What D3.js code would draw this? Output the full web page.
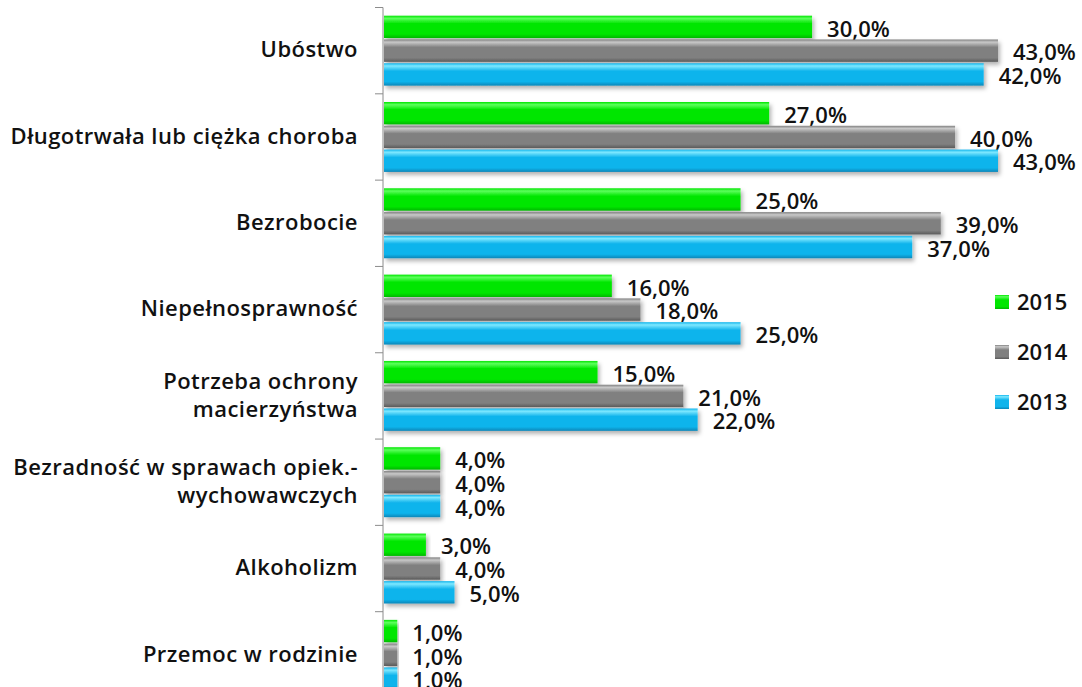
<!DOCTYPE html>
<html><head><meta charset="utf-8">
<script src="https://cdn.jsdelivr.net/npm/d3@7"></script>
<style>body{margin:0;background:#fff}svg{display:block}</style>
</head><body><svg id="c" width="1082" height="687"></svg>
<script>
const categories = [
  ["Ubóstwo"],
  ["Długotrwała lub ciężka choroba"],
  ["Bezrobocie"],
  ["Niepełnosprawność"],
  ["Potrzeba ochrony", "macierzyństwa "],
  ["Bezradność w sprawach opiek.-", "wychowawczych"],
  ["Alkoholizm"],
  ["Przemoc w rodzinie"]
];
const seriesNames = ["2015", "2014", "2013"];
const values2015 = [30, 27, 25, 16, 15, 4, 3, 1];
const values2014 = [43, 40, 39, 18, 21, 4, 4, 1];
const values2013 = [42, 43, 37, 25, 22, 4, 5, 1];
const seriesValues = [values2015, values2014, values2013];
const colors = {
  "2015": ["#5cff5c", "#00e600", "#00b800"],
  "2014": ["#c8c8c8", "#808080", "#5a5a5a"],
  "2013": ["#7ee8ff", "#10b4ec", "#0a86b8"]
};

const svg = d3.select("#c");
const font = "'Open Sans', Lato, sans-serif";
const x0 = 383;
const x = d3.scaleLinear().domain([0, 43]).range([x0, 998]);
const y = d3.scaleBand().domain(d3.range(categories.length)).range([7.5, 698]).paddingInner(0.19).paddingOuter(0.095);
const ys = d3.scaleBand().domain(seriesNames).range([0, y.bandwidth()]).paddingInner(0.06);

const defs = svg.append("defs");
seriesNames.forEach(s => {
  const g = defs.append("linearGradient").attr("id", "g" + s).attr("x1", 0).attr("x2", 0).attr("y1", 0).attr("y2", 1);
  const c = colors[s];
  g.append("stop").attr("offset", "0%").attr("stop-color", c[1]);
  g.append("stop").attr("offset", "12%").attr("stop-color", c[0]);
  g.append("stop").attr("offset", "35%").attr("stop-color", c[1]);
  g.append("stop").attr("offset", "82%").attr("stop-color", c[1]);
  g.append("stop").attr("offset", "100%").attr("stop-color", c[2]);
});
const f = defs.append("filter").attr("id", "sh").attr("x", "-5%").attr("y", "-20%").attr("width", "115%").attr("height", "160%");
f.append("feDropShadow").attr("dx", 2).attr("dy", 3).attr("stdDeviation", 2).attr("flood-color", "#000").attr("flood-opacity", 0.3);

// axis line and ticks
svg.append("line").attr("x1", x0).attr("x2", x0).attr("y1", y.range()[0]).attr("y2", y.range()[1]).attr("stroke", "#8c8c8c").attr("stroke-width", 1);
const bounds = d3.range(categories.length + 1).map(i => y.range()[0] + i * y.step());
svg.selectAll("line.tk").data(bounds).join("line").attr("class", "tk")
  .attr("x1", x0 - 8).attr("x2", x0).attr("y1", d => d).attr("y2", d => d).attr("stroke", "#8c8c8c");

// category labels
categories.forEach((lines, i) => {
  const cy = y(i) + y.bandwidth() / 2;
  const lh = 28;
  lines.forEach((t, j) => {
    svg.append("text").attr("x", 358).attr("y", cy - 1 + (j - (lines.length - 1) / 2) * lh)
      .attr("dy", "0.35em").attr("text-anchor", "end").attr("font-family", font)
      .attr("font-weight", 600).attr("font-size", 22).attr("letter-spacing", 0.45).attr("fill", "#111").text(t);
  });
});

// bars
seriesNames.forEach((s, si) => {
  const g = svg.append("g");
  g.selectAll("rect").data(seriesValues[si]).join("rect")
    .attr("x", x0 + 1).attr("y", (d, i) => y(i) + ys(s))
    .attr("width", d => x(d) - x0 - 1).attr("height", ys.bandwidth())
    .attr("fill", `url(#g${s})`).attr("filter", "url(#sh)");
  g.selectAll("text").data(seriesValues[si]).join("text")
    .attr("x", d => x(d) + 15).attr("y", (d, i) => y(i) + ys(s) + ys.bandwidth() / 2 + 2)
    .attr("dy", "0.35em").attr("font-family", font).attr("font-weight", 600)
    .attr("font-size", 22).attr("fill", "#111")
    .text(d => d.toFixed(1).replace(".", ",") + "%");
});

// legend
const leg = svg.append("g");
seriesNames.forEach((s, i) => {
  const ly = 302 + i * 50;
  leg.append("rect").attr("x", 995).attr("y", ly - 7).attr("width", 14).attr("height", 14).attr("fill", `url(#g${s})`);
  leg.append("text").attr("x", 1017).attr("y", ly).attr("dy", "0.35em").attr("font-family", font)
    .attr("font-weight", 600).attr("font-size", 22).attr("fill", "#111").text(s);
});
</script></body></html>
